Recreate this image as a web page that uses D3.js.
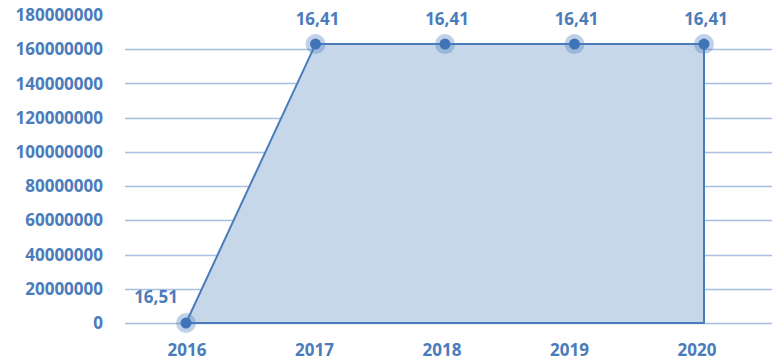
<!DOCTYPE html>
<html><head><meta charset="utf-8">
<script src="https://cdn.jsdelivr.net/npm/d3@7"></script>
<style>body{margin:0;background:#fff}svg{display:block}</style>
</head><body><svg id="c" width="772" height="361"></svg>
<script>
const years = ["2016","2017","2018","2019","2020"];
const values = [0, 163000000, 163000000, 163000000, 163000000];
const labels = ["16,51","16,41","16,41","16,41","16,41"];
const yTicks = [0,20000000,40000000,60000000,80000000,100000000,120000000,140000000,160000000,180000000];

const svg = d3.select("#c");
const blue = "#4a7cbb";
const font = "'Open Sans', sans-serif";
const fs = 17, fw = 700;

const y = d3.scaleLinear().domain([0,180000000]).range([323,15]);
const x = d3.scalePoint().domain(years).range([186,704]);
const xa = d3.scalePoint().domain(years).range([187,697]);

// gridlines
svg.append("g").selectAll("line").data(yTicks.filter(t=>t<180000000)).join("line")
  .attr("x1",125).attr("x2",772).attr("y1",d=>Math.round(y(d))+0.5).attr("y2",d=>Math.round(y(d))+0.5)
  .attr("stroke","#a6bfe0").attr("stroke-width",1.5);

// y labels
svg.append("g").selectAll("text").data(yTicks).join("text")
  .attr("x",103).attr("y",d=>y(d)).attr("dy","0.36em").attr("text-anchor","end")
  .attr("font-family",font).attr("font-weight",fw).attr("font-size",fs).attr("fill",blue)
  .text(d=>d);

// x labels
svg.append("g").selectAll("text").data(years).join("text")
  .attr("x",d=>xa(d)).attr("y",356).attr("text-anchor","middle")
  .attr("font-family",font).attr("font-weight",fw).attr("font-size",fs).attr("fill",blue)
  .text(d=>d);

const pts = years.map((yr,i)=>({yr, v:values[i], lab:labels[i]}));
const area = d3.area().x(d=>x(d.yr)).y0(y(0)).y1(d=>y(d.v));
svg.append("path").attr("d",area(pts)+"Z")
  .attr("fill","#c6d7ea").attr("stroke",blue).attr("stroke-width",2).attr("stroke-linejoin","round");

// markers
const g = svg.append("g");
g.selectAll("circle.h").data(pts).join("circle").attr("class","h")
  .attr("cx",d=>x(d.yr)).attr("cy",d=>y(d.v)).attr("r",10).attr("fill","#4a7cbb").attr("fill-opacity",0.35);
g.selectAll("circle.d").data(pts).join("circle").attr("class","d")
  .attr("cx",d=>x(d.yr)).attr("cy",d=>y(d.v)).attr("r",5.5).attr("fill","#3f74b8");

// data labels
svg.append("g").selectAll("text").data(pts).join("text")
  .attr("x",(d,i)=> i===0 ? x(d.yr)-30 : x(d.yr)+2)
  .attr("y",(d,i)=> i===0 ? y(d.v)-20 : y(d.v)-19)
  .attr("text-anchor","middle")
  .attr("font-family",font).attr("font-weight",fw).attr("font-size",fs).attr("fill",blue)
  .text(d=>d.lab);
</script></body></html>
